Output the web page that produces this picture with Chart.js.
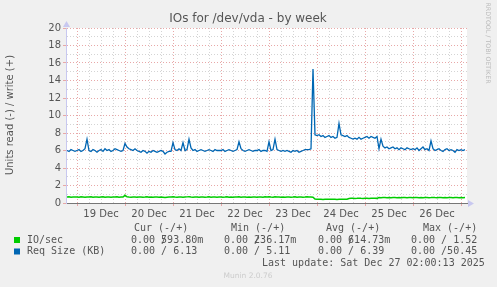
<!DOCTYPE html>
<html>
<head>
<meta charset="utf-8">
<script src="https://cdn.jsdelivr.net/npm/chart.js@4.4.0/dist/chart.umd.min.js"></script>
<style>
  html, body { margin: 0; padding: 0; background: #f0f0f0; }
</style>
</head>
<body>
<canvas id="ioChart" width="497" height="287"></canvas>
<script>
// hours counted from 19 Dec 00:00, one sample per hour, first sample 18 Dec 19:00
const START_HOUR = -5;
const X_MIN = -5.5;
const X_MAX = 195;
const dayLabels = ['19 Dec', '20 Dec', '21 Dec', '22 Dec', '23 Dec', '24 Dec', '25 Dec', '26 Dec'];

// Req Size (KB), write side
const reqSize = [
  6.0, 5.9, 6.1, 6.0, 5.9,
  6.0, 6.1, 5.9, 6.0, 6.2, 7.3, 6.0, 5.9, 6.1, 6.0, 5.8, 6.0, 6.1, 5.9, 6.2, 6.0, 6.1, 5.9, 6.0, 6.2, 6.1, 6.0, 5.9, 6.0,
  6.8, 6.4, 6.2, 6.1, 6.0, 6.2, 6.0, 5.9, 5.8, 6.0, 5.9, 5.7, 5.9, 5.8, 6.0, 5.9, 5.8, 5.9, 6.0, 5.9, 5.6, 5.8, 5.9, 5.9,
  6.9, 6.1, 6.0, 6.2, 6.0, 6.9, 6.0, 6.1, 7.3, 6.3, 6.0, 6.1, 5.9, 6.0, 6.1, 6.0, 5.9, 6.0, 6.1, 6.0, 5.9, 6.1, 6.0, 6.0,
  6.0, 6.1, 5.9, 6.0, 6.1, 6.0, 5.9, 6.0, 6.1, 7.0, 6.2, 6.0, 5.9, 6.0, 6.1, 6.0, 5.9, 6.0, 6.0, 6.1, 5.9, 6.0, 6.0, 5.9,
  7.0, 6.0, 6.1, 7.3, 6.1, 6.0, 5.9, 6.0, 5.9, 6.0, 5.9, 5.8, 6.0, 5.9, 6.0, 5.8, 5.9, 6.0, 6.1, 6.1, 6.1, 6.2, 15.3, 7.8,
  7.7, 7.8, 7.6, 7.7, 7.5, 7.6, 7.7, 7.5, 7.6, 7.4, 7.5, 9.1, 7.8, 7.7, 7.6, 7.7, 7.5, 7.4, 7.3, 7.4, 7.3, 7.5, 7.3, 7.4,
  7.5, 7.6, 7.4, 7.6, 7.5, 7.4, 7.6, 6.2, 7.3, 6.5, 6.3, 6.4, 6.2, 6.3, 6.4, 6.2, 6.3, 6.1, 6.3, 6.2, 6.1, 6.3, 6.2, 6.1,
  6.2, 6.1, 6.3, 6.0, 6.2, 6.4, 6.1, 6.2, 6.0, 7.1, 6.2, 6.0, 6.1, 6.2, 6.0, 5.9, 6.1, 6.2, 6.0, 6.1, 6.0, 5.8, 6.1, 6.0,
  6.1, 6.0, 6.1
];

// IO/sec, write side
const ioSec = [
  0.68, 0.70, 0.67, 0.69, 0.68,
  0.69, 0.67, 0.70, 0.68, 0.66, 0.69, 0.68, 0.70, 0.67, 0.68, 0.69, 0.66, 0.68, 0.70, 0.67, 0.69, 0.68, 0.67, 0.69, 0.68, 0.70, 0.67, 0.68, 0.69,
  0.88, 0.70, 0.68, 0.67, 0.69, 0.68, 0.66, 0.68, 0.69, 0.67, 0.68, 0.70, 0.67, 0.68, 0.66, 0.69, 0.68, 0.67, 0.69, 0.66, 0.63, 0.67, 0.68, 0.69,
  0.70, 0.68, 0.67, 0.69, 0.68, 0.67, 0.69, 0.70, 0.71, 0.68, 0.67, 0.69, 0.68, 0.66, 0.68, 0.69, 0.67, 0.68, 0.70, 0.67, 0.68, 0.69, 0.67, 0.68,
  0.69, 0.67, 0.68, 0.70, 0.67, 0.68, 0.66, 0.69, 0.68, 0.70, 0.67, 0.68, 0.69, 0.67, 0.68, 0.66, 0.69, 0.68, 0.67, 0.69, 0.68, 0.67, 0.70, 0.68,
  0.70, 0.68, 0.67, 0.72, 0.68, 0.69, 0.67, 0.68, 0.66, 0.68, 0.69, 0.67, 0.68, 0.70, 0.67, 0.68, 0.69, 0.67, 0.68, 0.70, 0.69, 0.68, 0.67, 0.45,
  0.42, 0.43, 0.42, 0.41, 0.43, 0.42, 0.44, 0.42, 0.43, 0.42, 0.41, 0.43, 0.42, 0.44, 0.42, 0.43, 0.52, 0.53, 0.54, 0.52, 0.53, 0.55, 0.53, 0.52,
  0.54, 0.53, 0.52, 0.54, 0.53, 0.55, 0.53, 0.62, 0.61, 0.63, 0.62, 0.60, 0.62, 0.61, 0.63, 0.62, 0.61, 0.62, 0.60, 0.63, 0.62, 0.61, 0.62, 0.63,
  0.61, 0.62, 0.63, 0.61, 0.62, 0.60, 0.62, 0.63, 0.61, 0.62, 0.64, 0.62, 0.61, 0.63, 0.62, 0.60, 0.62, 0.61, 0.63, 0.62, 0.61, 0.62, 0.63, 0.61,
  0.62, 0.61, 0.62
];

// legend table
const seriesNames = ['IO/sec', 'Req Size (KB)'];
const seriesColors = ['#00cc00', '#0066b3'];
const curValues = ['593.80m', '6.13'];
const minValues = ['236.17m', '5.11'];
const avgValues = ['614.73m', '6.39'];
const maxValues = ['1.52', '50.45'];
const lastUpdate = 'Last update: Sat Dec 27 02:00:13 2025';

const hours = reqSize.map(function (v, i) { return START_HOUR + i; });
const toPoints = function (arr) {
    return arr.map(function (v, i) { return {x: hours[i], y: v}; });
};

const MAJOR = '#e8a8a8';
const MINOR = '#d4d4d4';
const AXIS_BLUE = '#c8c8f0';
const MONO = '10px "DejaVu Sans Mono", monospace';

// background, arrows, side texts and legend table
const muninDecor = {
    id: 'muninDecor',
    beforeDraw: function (chart) {
        const ctx = chart.ctx;
        const a = chart.chartArea;
        ctx.save();
        ctx.fillStyle = '#f0f0f0';
        ctx.fillRect(0, 0, chart.width, chart.height);
        ctx.fillStyle = '#ffffff';
        ctx.fillRect(a.left, a.top, a.right - a.left, a.bottom - a.top);
        ctx.restore();
    },
    afterDraw: function (chart) {
        const ctx = chart.ctx;
        const a = chart.chartArea;
        ctx.save();

        // arrows at the end of the axes
        ctx.fillStyle = AXIS_BLUE;
        ctx.beginPath();
        ctx.moveTo(a.left - 3, a.top - 1);
        ctx.lineTo(a.left + 0.5, a.top - 7);
        ctx.lineTo(a.left + 4, a.top - 1);
        ctx.fill();
        ctx.beginPath();
        ctx.moveTo(a.right + 1, a.bottom - 3);
        ctx.lineTo(a.right + 7, a.bottom + 0.5);
        ctx.lineTo(a.right + 1, a.bottom + 4);
        ctx.fill();

        // title
        ctx.fillStyle = '#555555';
        ctx.font = '12px "DejaVu Sans", sans-serif';
        ctx.textAlign = 'center';
        ctx.textBaseline = 'middle';
        ctx.fillText('IOs for /dev/vda - by week', 248, 19);

        // y axis title
        ctx.save();
        ctx.translate(10, 115);
        ctx.rotate(-Math.PI / 2);
        ctx.font = '10px "DejaVu Sans", sans-serif';
        ctx.fillText('Units read (-) / write (+)', 0, 0);
        ctx.restore();

        // rrdtool mark
        ctx.save();
        ctx.translate(488, 43);
        ctx.rotate(Math.PI / 2);
        ctx.fillStyle = '#bbbbbb';
        ctx.font = '6.3px "DejaVu Sans", sans-serif';
        ctx.fillText('RRDTOOL / TOBI OETIKER', 0, 0);
        ctx.restore();

        // legend table
        ctx.font = MONO;
        ctx.textAlign = 'left';
        ctx.fillStyle = '#555555';
        const cw = 6.02;
        ctx.fillText('Cur (-/+)', 134, 228);
        ctx.fillText('Min (-/+)', 231, 228);
        ctx.fillText('Avg (-/+)', 326, 228);
        ctx.fillText('Max (-/+)', 423, 228);

        const cols = [[131, curValues], [224, minValues], [318, avgValues], [411, maxValues]];
        for (let i = 0; i < seriesNames.length; i++) {
            const y = 240 + i * 11.5;
            ctx.fillStyle = seriesColors[i];
            ctx.fillRect(14, y - 3, 6, 6);
            ctx.fillStyle = '#555555';
            ctx.fillText(seriesNames[i], 27, y);
            cols.forEach(function (c) {
                const val = c[1][i];
                ctx.fillText('0.00 /', c[0], y);
                // values wider than 5 chars run over the slash, like munin does
                const start = val.length > 5 ? 5 : 11 - val.length;
                ctx.fillText(val, c[0] + start * cw, y);
            });
        }
        ctx.fillText(lastUpdate, 262, 263.5);

        ctx.fillStyle = '#cccccc';
        ctx.font = '7.5px "DejaVu Sans", sans-serif';
        ctx.textAlign = 'center';
        ctx.fillText('Munin 2.0.76', 248, 276);
        ctx.restore();
    }
};

const ctx = document.getElementById('ioChart').getContext('2d');
window.chartInstance = new Chart(ctx, {
    type: 'line',
    data: {
        datasets: [{
            label: 'Req Size (KB)',
            data: toPoints(reqSize),
            borderColor: '#0066b3',
            borderWidth: 1.3,
            pointRadius: 0,
            tension: 0,
            order: 0
        }, {
            label: 'IO/sec',
            data: toPoints(ioSec),
            borderColor: '#00cc00',
            borderWidth: 1.5,
            pointRadius: 0,
            tension: 0,
            order: 1
        }]
    },
    options: {
        responsive: false,
        animation: false,
        layout: {padding: {left: 0, right: 30, top: 28, bottom: 64}},
        plugins: {
            legend: {display: false},
            tooltip: {enabled: false},
            title: {display: false}
        },
        scales: {
            x: {
                type: 'linear',
                min: X_MIN,
                max: X_MAX,
                afterFit: function (s) { s.height = 20; },
                afterBuildTicks: function (s) {
                    const t = [];
                    for (let h = 0; h <= 192; h += 6) t.push({value: h});
                    s.ticks = t;
                },
                ticks: {
                    autoSkip: false,
                    maxRotation: 0,
                    padding: 2,
                    color: '#555555',
                    font: {family: 'DejaVu Sans', size: 10},
                    callback: function (v) {
                        return v % 24 === 12 ? dayLabels[(v - 12) / 24] : '';
                    }
                },
                grid: {
                    drawTicks: true,
                    tickLength: 3,
                    color: function (c) {
                        return c.tick && c.tick.value % 24 === 0 ? MAJOR : MINOR;
                    },
                    tickColor: function (c) {
                        return c.tick && c.tick.value % 24 === 0 ? MAJOR : 'rgba(0,0,0,0)';
                    }
                },
                border: {display: true, color: '#777777', width: 1, dash: [1, 2]}
            },
            y: {
                min: 0,
                max: 20,
                afterFit: function (s) { s.width = 66; },
                afterBuildTicks: function (s) {
                    const t = [];
                    for (let v = 0; v <= 20; v++) t.push({value: v});
                    s.ticks = t;
                },
                ticks: {
                    autoSkip: false,
                    padding: 2,
                    color: '#555555',
                    font: {family: 'DejaVu Sans', size: 10},
                    callback: function (v) { return v % 2 === 0 ? v : ''; }
                },
                grid: {
                    drawTicks: true,
                    tickLength: 3,
                    color: function (c) {
                        if (!c.tick || c.tick.value === 0) return 'rgba(0,0,0,0)';
                        return c.tick.value % 2 === 0 ? MAJOR : MINOR;
                    },
                    tickColor: function (c) {
                        return c.tick && c.tick.value % 2 === 0 ? MAJOR : 'rgba(0,0,0,0)';
                    }
                },
                border: {display: true, color: AXIS_BLUE, width: 1, dash: [1, 2]}
            }
        }
    },
    plugins: [muninDecor]
});
</script>
</body>
</html>
